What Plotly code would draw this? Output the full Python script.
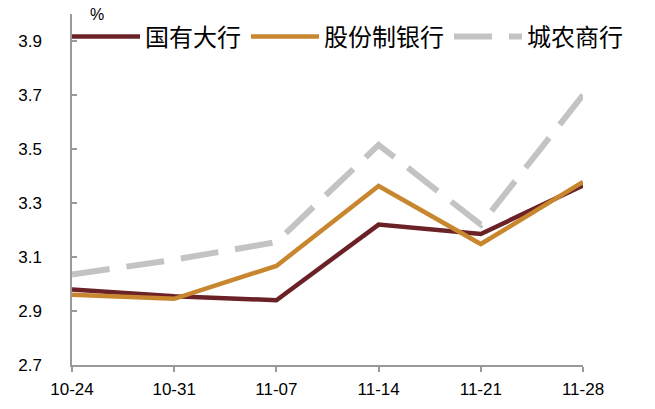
import plotly.graph_objects as go

dates = ["10-24", "10-31", "11-07", "11-14", "11-21", "11-28"]
state_banks = [2.98, 2.955, 2.94, 3.22, 3.185, 3.365]
joint_stock = [2.96, 2.945, 3.067, 3.363, 3.148, 3.378]
rural_city = [3.035, 3.09, 3.155, 3.515, 3.22, 3.70]
y_ticks = [2.7, 2.9, 3.1, 3.3, 3.5, 3.7, 3.9]

fig = go.Figure()
fig.add_trace(go.Scatter(x=dates, y=state_banks, name="国有大行", mode="lines",
                         line=dict(color="#6B2226", width=4.5)))
fig.add_trace(go.Scatter(x=dates, y=joint_stock, name="股份制银行", mode="lines",
                         line=dict(color="#C8872F", width=4.5)))
fig.add_trace(go.Scatter(x=dates, y=rural_city, name="城农商行", mode="lines",
                         line=dict(color="#C3C3C3", width=6, dash="38px,17px")))

tickfont = dict(family="Liberation Sans, Arial", size=17, color="#000")
fig.update_layout(
    width=655, height=409,
    margin=dict(l=72, r=0, t=14, b=44, autoexpand=False),
    plot_bgcolor="white", paper_bgcolor="white",
    showlegend=True,
    legend=dict(orientation="h", xref="container", yref="container",
                x=67/655, xanchor="left", y=1 - 37/409, yanchor="middle",
                font=dict(family="Noto Sans CJK SC", size=24, color="#000"),
                bgcolor="rgba(0,0,0,0)", itemwidth=68, tracegroupgap=0),
    xaxis=dict(type="category", range=[0, 5], domain=[0, 511/583],
               showgrid=False, zeroline=False,
               showline=True, linecolor="#999", linewidth=1.5,
               ticks="outside", ticklen=5, tickcolor="#999", tickwidth=1.5,
               tickfont=tickfont, ticklabelstandoff=3),
    yaxis=dict(range=[2.7, 4.0], tickvals=y_ticks, ticktext=[f"{v:.1f}" for v in y_ticks],
               showgrid=False, zeroline=False, showline=True, linecolor="#999", linewidth=1.5,
               ticks="inside", ticklen=5, tickcolor="#999", tickwidth=1.5,
               tickfont=tickfont, ticklabelstandoff=25),
)
fig.add_annotation(text="%", xref="x domain", yref="paper", x=25/511, y=1.0, xanchor="center",
                   yanchor="middle", showarrow=False,
                   font=dict(family="Liberation Sans, Arial", size=16, color="#000"))
fig.write_html("out.html")
